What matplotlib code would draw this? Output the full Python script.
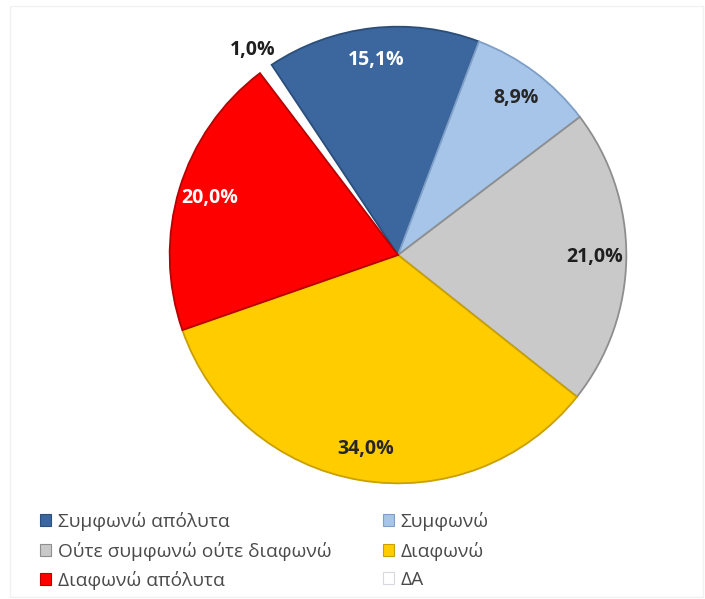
import numpy as np
import matplotlib
matplotlib.use("Agg")
import matplotlib.pyplot as plt
from matplotlib.patches import Patch, Rectangle

plt.rcParams['font.family'] = ['Open Sans', 'DejaVu Sans']

categories = ['Συμφωνώ απόλυτα', 'Συμφωνώ', 'Ούτε συμφωνώ ούτε διαφωνώ',
              'Διαφωνώ', 'Διαφωνώ απόλυτα', 'ΔΑ']
values = [15.1, 8.9, 21.0, 34.0, 20.0, 1.0]

colors = ['#3b679e', '#a7c4e9', '#c9c9c9', '#ffcc00', '#ff0000', '#ffffff']
edge_colors = ['#2b4e7a', '#7d9fc8', '#8e8e8e', '#c9a000', '#b80000', '#ffffff']
label_colors = ['#ffffff', '#262626', '#1e1e1e', '#262626', '#ffffff', '#1e1e1e']

W, H = 705, 599
fig = plt.figure(figsize=(W / 100, H / 100), dpi=100)
fig.patch.set_facecolor('white')

# faint chart-area frame
fig.patches.append(Rectangle((10 / W, 2 / H), 693 / W, 591 / H, transform=fig.transFigure,
                             fill=False, edgecolor='#f1f1f1', linewidth=1.0))

cx, cy, r = 398, 255, 229
ax = fig.add_axes([(cx - r) / W, (H - cy - r) / H, 2 * r / W, 2 * r / H])

wedges, _ = ax.pie(values, colors=colors, startangle=123.6, counterclock=False,
                   radius=1.0, wedgeprops=dict(linewidth=1.3))
for w, ec in zip(wedges, edge_colors):
    w.set_edgecolor(ec)
# the white wedge sits underneath so neighbouring outlines stay visible
wedges[-1].set_zorder(0.5)

ax.set_xlim(-1.003, 1.003)
ax.set_ylim(-1.003, 1.003)
ax.set_aspect('equal')
ax.axis('off')

# percentage labels at each wedge's mid-angle
for w, v, tc in zip(wedges, values, label_colors):
    mid = np.deg2rad((w.theta1 + w.theta2) / 2)
    dist = 1.1 if v < 2 else 0.86
    txt = f"{v:.1f}%".replace('.', ',')
    ax.text(dist * np.cos(mid), dist * np.sin(mid), txt, ha='center', va='center',
            fontsize=14, fontweight='bold', color=tc)

# legend in two columns
handles = [Patch(facecolor=c, edgecolor=(ec if c != '#ffffff' else '#d8d8e0'), linewidth=0.8)
           for c, ec in zip(colors, edge_colors)]
left_idx = [0, 2, 4]
right_idx = [1, 3, 5]
common = dict(frameon=False, fontsize=13.8, handlelength=0.57, handleheight=0.57,
              handletextpad=0.35, labelspacing=0.55, borderpad=0, borderaxespad=0,
              labelcolor='#4a4a4a', loc='upper left')
leg1 = fig.legend([handles[i] for i in left_idx], [categories[i] for i in left_idx],
                  bbox_to_anchor=(40 / W, 1 - 512 / H), **common)
leg2 = fig.legend([handles[i] for i in right_idx], [categories[i] for i in right_idx],
                  bbox_to_anchor=(383 / W, 1 - 512 / H), **common)

fig.savefig('out.png', dpi=100, facecolor='white')
